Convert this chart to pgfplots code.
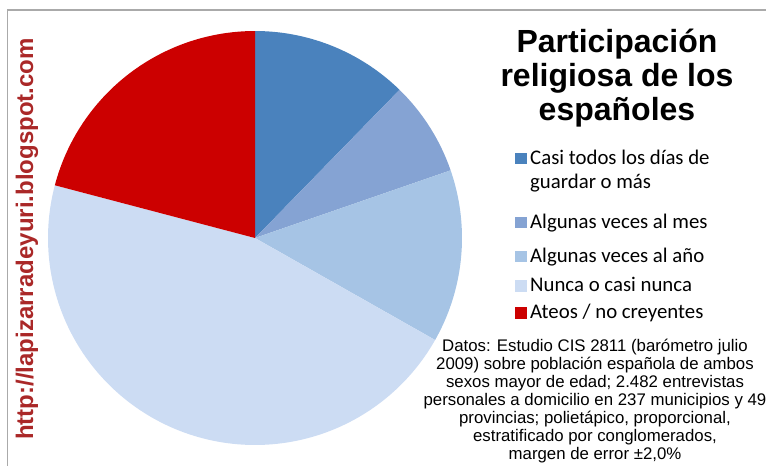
\documentclass[border=0pt]{standalone}
\usepackage{fontspec}
\setmainfont{Liberation Sans}
\newfontfamily\legendfont{Carlito}
\usepackage{pgfplots}
\pgfplotsset{compat=1.18}

\definecolor{diario}{RGB}{74,130,189}
\definecolor{mes}{RGB}{133,163,211}
\definecolor{anyo}{RGB}{166,196,229}
\definecolor{nunca}{RGB}{204,220,243}
\definecolor{ateos}{RGB}{204,0,0}
\definecolor{urlred}{RGB}{170,40,40}
\definecolor{framegray}{RGB}{170,170,170}

% shares in percent, clockwise from 12 o'clock
\def\pA{12.3}
\def\pB{7.4}
\def\pC{13.5}
\def\pD{45.9}
\def\pE{20.9}
% slice boundary angles (degrees)
\pgfmathsetmacro\angA{90}
\pgfmathsetmacro\angB{\angA-3.6*\pA}
\pgfmathsetmacro\angC{\angB-3.6*\pB}
\pgfmathsetmacro\angD{\angC-3.6*\pC}
\pgfmathsetmacro\angE{\angD-3.6*\pD}
\pgfmathsetmacro\angF{\angE-3.6*\pE}

\begin{document}
\begin{tikzpicture}[x=1pt,y=1pt]
\useasboundingbox (0,0) rectangle (766,-466);
\draw[framegray, line width=1.3pt] (7.3,-466) -- (7.3,-10) -- (766,-10);

\begin{axis}[
  at={(255pt,-238pt)}, anchor=origin,
  x=207pt, y=207pt,
  xmin=-1, xmax=1, ymin=-1, ymax=1,
  hide axis, clip=false,
  legend style={at={(1.128,0.7126)}, anchor=north west, draw=none, fill=none,
    inner sep=0pt, row sep=0pt, column sep=3.5pt,
    font=\legendfont\fontsize{20.8}{24.8}\selectfont,
    cells={anchor=base west}, nodes={inner sep=0pt}},
  legend image code/.code={\fill[#1] (0pt,0pt) rectangle (11.5pt,11.5pt);},
]
\addplot[fill=diario, draw=none, domain=\angB:\angA, samples=60, variable=\t]
  ({cos(\t)},{sin(\t)}) -- (0,0) -- cycle;
\addlegendentry[text height=14pt, text depth=50pt]{\begin{tabular}[t]{@{}l@{}}Casi todos los días de\\guardar o más\end{tabular}}
\addplot[fill=mes, draw=none, domain=\angC:\angB, samples=40, variable=\t]
  ({cos(\t)},{sin(\t)}) -- (0,0) -- cycle;
\addlegendentry[text height=14pt, text depth=20pt]{Algunas veces al mes}
\addplot[fill=anyo, draw=none, domain=\angD:\angC, samples=50, variable=\t]
  ({cos(\t)},{sin(\t)}) -- (0,0) -- cycle;
\addlegendentry[text height=14pt, text depth=15.5pt]{Algunas veces al año}
\addplot[fill=nunca, draw=none, domain=\angE:\angD, samples=120, variable=\t]
  ({cos(\t)},{sin(\t)}) -- (0,0) -- cycle;
\addlegendentry[text height=14pt, text depth=13pt]{Nunca o casi nunca}
\addplot[fill=ateos, draw=none, domain=\angF:\angE, samples=60, variable=\t]
  ({cos(\t)},{sin(\t)}) -- (0,0) -- cycle;
\addlegendentry[text height=14pt, text depth=6pt]{Ateos / no creyentes}
\end{axis}

% title
\begin{scope}[every node/.style={anchor=base, font=\bfseries\fontsize{32}{34}\selectfont}]
\node at (617,-52) {Participación};
\node at (617,-86) {religiosa de los};
\node at (617,-120) {españoles};
\end{scope}

% source note
\begin{scope}[every node/.style={anchor=base, font=\fontsize{16.8}{18}\selectfont, inner sep=0pt}]
\node at (595,-351) {Datos: Estudio CIS 2811 (barómetro julio};
\node at (595,-369.1) {2009) sobre población española de ambos};
\node at (595,-387.2) {sexos mayor de edad; 2.482 entrevistas};
\node at (595,-405.3) {personales a domicilio en 237 municipios y 49};
\node at (595,-423.4) {provincias; polietápico, proporcional,};
\node at (595,-441.5) {estratificado por conglomerados,};
\node at (595,-459.6) {margen de error ±2,0\%};
\end{scope}

% blog address
\node[rotate=90, text=urlred, font=\bfseries\fontsize{24}{28}\selectfont] at (27,-239) {http://lapizarradeyuri.blogspot.com};
\end{tikzpicture}
\end{document}
